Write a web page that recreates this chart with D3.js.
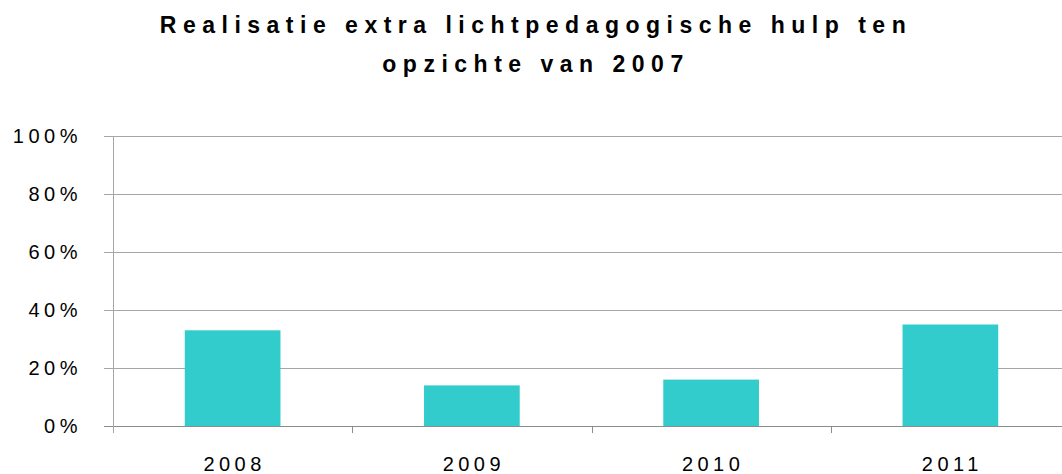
<!DOCTYPE html>
<html>
<head>
<meta charset="utf-8">
<script src="https://cdn.jsdelivr.net/npm/d3@7"></script>
<style>
  body { margin: 0; background: #fff; }
  svg { display: block; font-family: 'Liberation Sans', Arial, sans-serif; }
</style>
</head>
<body>
<div id="chart"></div>
<script>
// Chart data
const years = ['2008', '2009', '2010', '2011'];
const realisatie = [0.33, 0.14, 0.16, 0.35];
const yTicks = [0, 0.2, 0.4, 0.6, 0.8, 1.0];
const titleLines = ['Realisatie extra lichtpedagogische hulp ten', 'opzichte van 2007'];

const width = 1062, height = 474;
const margin = { top: 136, right: -8, bottom: 48, left: 113 };

const svg = d3.select('#chart')
    .append('svg')
    .attr('width', width)
    .attr('height', height);

// Title
svg.append('text')
    .attr('x', 536)
    .attr('y', 33)
    .attr('text-anchor', 'middle')
    .style('font-weight', 'bold')
    .style('font-size', '23px')
    .style('letter-spacing', '6.5px')
    .selectAll('tspan')
    .data(titleLines)
    .enter()
    .append('tspan')
    .attr('x', 536)
    .attr('dy', (d, i) => i === 0 ? 0 : 39)
    .text(d => d);

const x = d3.scaleBand()
    .domain(years)
    .range([margin.left, width - margin.right])
    .paddingInner(0.6)
    .paddingOuter(0.3);

const y = d3.scaleLinear()
    .domain([0, 1])
    .range([height - margin.bottom, margin.top]);

// Gridlines
svg.append('g')
    .selectAll('line')
    .data(yTicks)
    .enter()
    .append('line')
    .attr('x1', margin.left - 9)
    .attr('x2', width)
    .attr('y1', d => Math.round(y(d)) + 0.5)
    .attr('y2', d => Math.round(y(d)) + 0.5)
    .attr('stroke', d => d === 0 ? '#8c8c8c' : '#a6a6a6')
    .attr('stroke-width', 1);

// Y axis line
svg.append('line')
    .attr('x1', margin.left + 0.5)
    .attr('x2', margin.left + 0.5)
    .attr('y1', y(1))
    .attr('y2', y(0) + 7)
    .attr('stroke', '#a6a6a6');

// Category boundary ticks
svg.append('g')
    .selectAll('line')
    .data(d3.range(1, years.length + 1))
    .enter()
    .append('line')
    .attr('x1', i => Math.round(margin.left + i * (width - margin.right - margin.left) / years.length) + 0.5)
    .attr('x2', i => Math.round(margin.left + i * (width - margin.right - margin.left) / years.length) + 0.5)
    .attr('y1', y(0))
    .attr('y2', y(0) + 7)
    .attr('stroke', '#8c8c8c');

// Y tick labels
svg.append('g')
    .selectAll('text')
    .data(yTicks)
    .enter()
    .append('text')
    .attr('x', 82)
    .attr('y', d => y(d) + 7)
    .attr('text-anchor', 'end')
    .style('font-size', '20px')
    .style('letter-spacing', '4.5px')
    .style('fill', '#000')
    .text(d => d3.format('.0%')(d));

// Bars
svg.append('g')
    .selectAll('rect')
    .data(realisatie)
    .enter()
    .append('rect')
    .attr('x', (d, i) => x(years[i]))
    .attr('y', d => y(d))
    .attr('width', x.bandwidth())
    .attr('height', d => y(0) - y(d))
    .attr('fill', '#33cccc');

// X labels
svg.append('g')
    .selectAll('text')
    .data(years)
    .enter()
    .append('text')
    .attr('x', d => x(d) + x.bandwidth() / 2 + 2)
    .attr('y', 471)
    .attr('text-anchor', 'middle')
    .style('font-size', '20px')
    .style('letter-spacing', '4.5px')
    .style('fill', '#000')
    .text(d => d);
</script>
</body>
</html>
